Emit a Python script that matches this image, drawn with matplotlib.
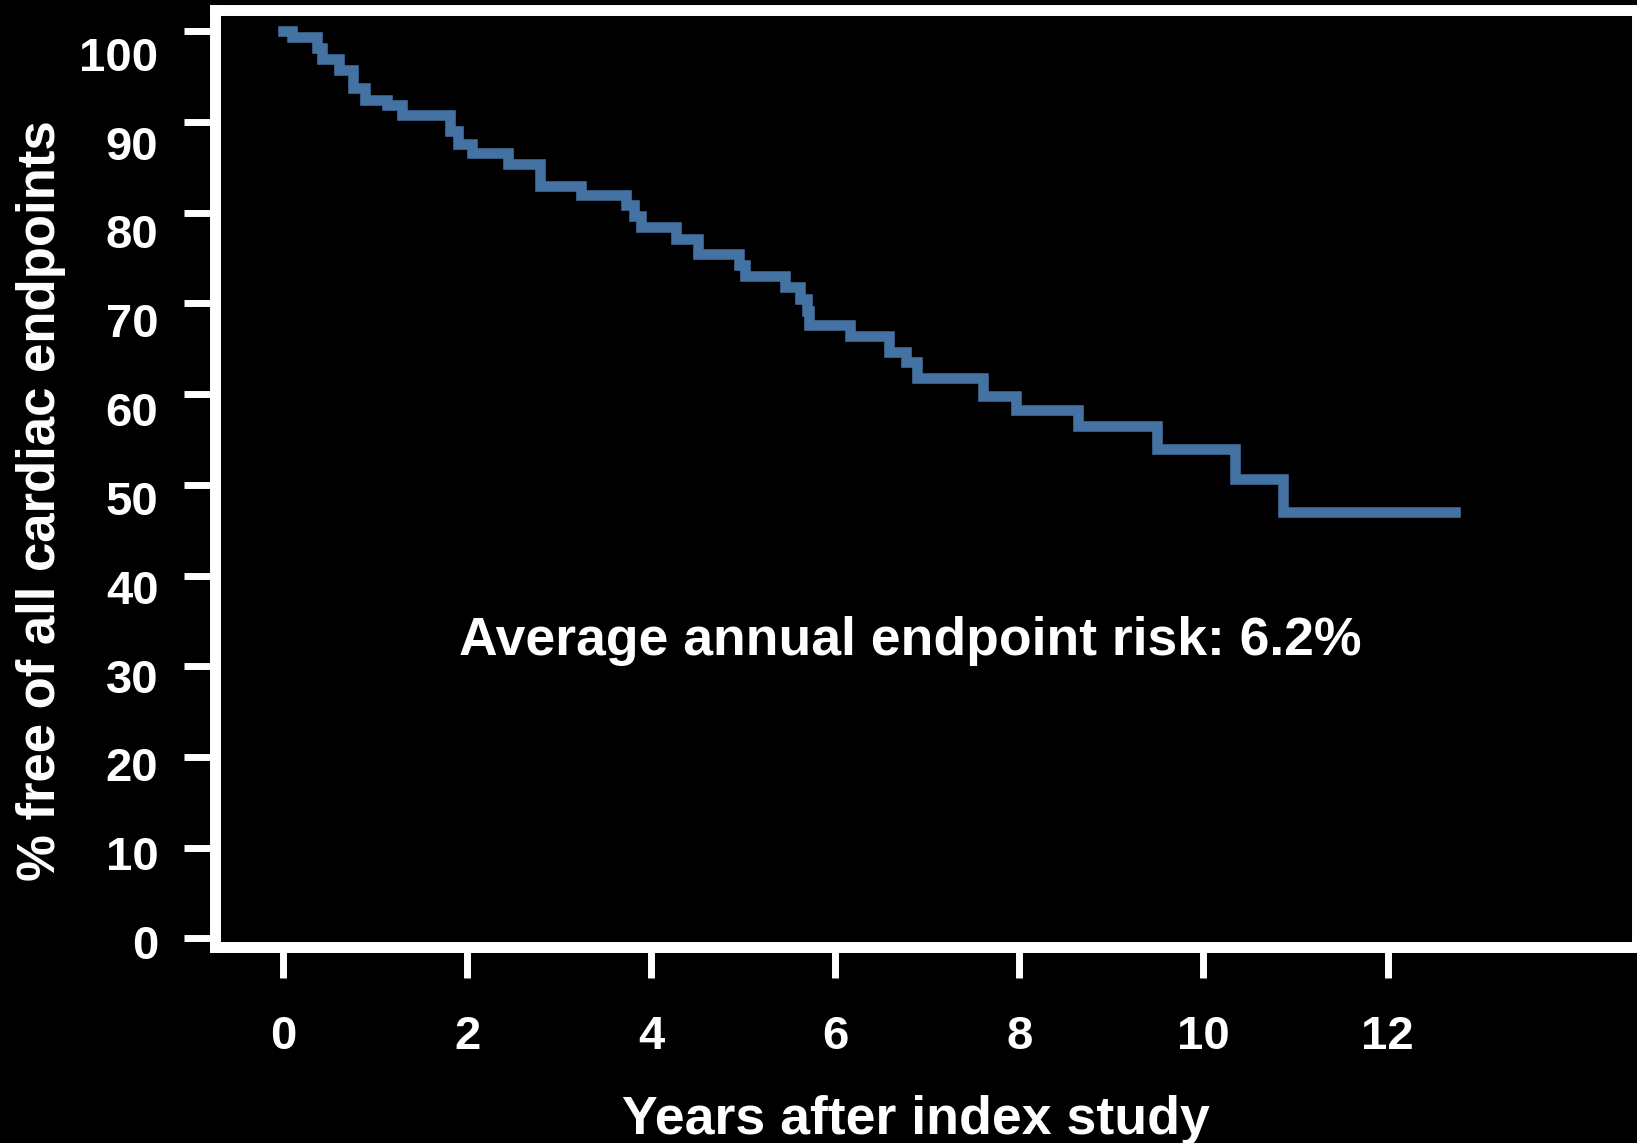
import matplotlib
matplotlib.use("Agg")
import matplotlib.pyplot as plt
import matplotlib.transforms as mtransforms

# Kaplan-Meier style curve: time of each drop (years) and % still free after it
years = [0.0, 0.10, 0.37, 0.42, 0.61, 0.76, 0.89, 1.13, 1.29, 1.81,
         1.90, 2.05, 2.44, 2.79, 3.24, 3.73, 3.81, 3.89, 4.27, 4.51,
         4.95, 5.02, 5.45, 5.62, 5.69, 5.72, 6.16, 6.58, 6.77, 6.89,
         7.60, 7.96, 8.64, 9.50, 10.34, 10.86, 12.73]
pct_free = [100.0, 99.4, 98.2, 96.9, 95.7, 93.7, 92.4, 91.9, 90.8, 89.0,
            87.6, 86.6, 85.4, 82.9, 82.0, 80.8, 79.6, 78.4, 77.1, 75.4,
            74.2, 73.0, 71.8, 70.5, 69.2, 67.6, 66.4, 64.7, 63.5, 61.8,
            59.8, 58.2, 56.5, 53.9, 50.6, 47.0, 47.0]

xticks = [0, 2, 4, 6, 8, 10, 12]
yticks = [0, 10, 20, 30, 40, 50, 60, 70, 80, 90, 100]
annotation = "Average annual endpoint risk: 6.2%"

# -------------------------------------------------------------

plt.rcParams['font.family'] = ['Liberation Sans', 'DejaVu Sans']
plt.rcParams['font.weight'] = 'bold'

fig = plt.figure(figsize=(16.37, 11.43), dpi=100, facecolor='black')
ax = fig.add_axes([0.1316, 0.1713, 1.0 - 0.1316, 0.9909 - 0.1713])
ax.set_facecolor('black')

ax.step(years, pct_free, where='post', color='#4472a2', lw=7.6,
        solid_joinstyle='miter', solid_capstyle='projecting')

ax.set_xlim(-0.733, 14.71)
ax.set_ylim(-0.96, 102.3)
ax.set_xticks(xticks)
ax.set_yticks(yticks)

for side in ['left', 'bottom', 'top', 'right']:
    ax.spines[side].set_color('white')
    ax.spines[side].set_linewidth(7.9)

ax.tick_params(axis='both', direction='out', color='white', labelcolor='white',
               length=22, width=5, labelsize=34)
ax.tick_params(axis='x', pad=27)
ax.tick_params(axis='y', pad=19)

# y labels in the original sit a bit lower than their ticks
for v, lab in zip(yticks, ax.get_yticklabels()):
    shift = (3.5 + 0.19 * v) / 100.0
    lab.set_transform(lab.get_transform() +
                      mtransforms.ScaledTranslation(0, -shift, fig.dpi_scale_trans))

ax.set_xlabel("Years after index study", fontsize=38.6, color='white', fontweight='bold')
ax.set_ylabel("% free of all cardiac endpoints", fontsize=38, color='white', fontweight='bold')
ax.xaxis.set_label_coords(0.4926, -0.158)
ax.yaxis.set_label_coords(-0.105, 0.477)

ax.text(6.82, 31.3, annotation, color='white', fontsize=38.5, fontweight='bold',
        ha='center', va='baseline')

plt.savefig("out.png", dpi=100, facecolor='black')
